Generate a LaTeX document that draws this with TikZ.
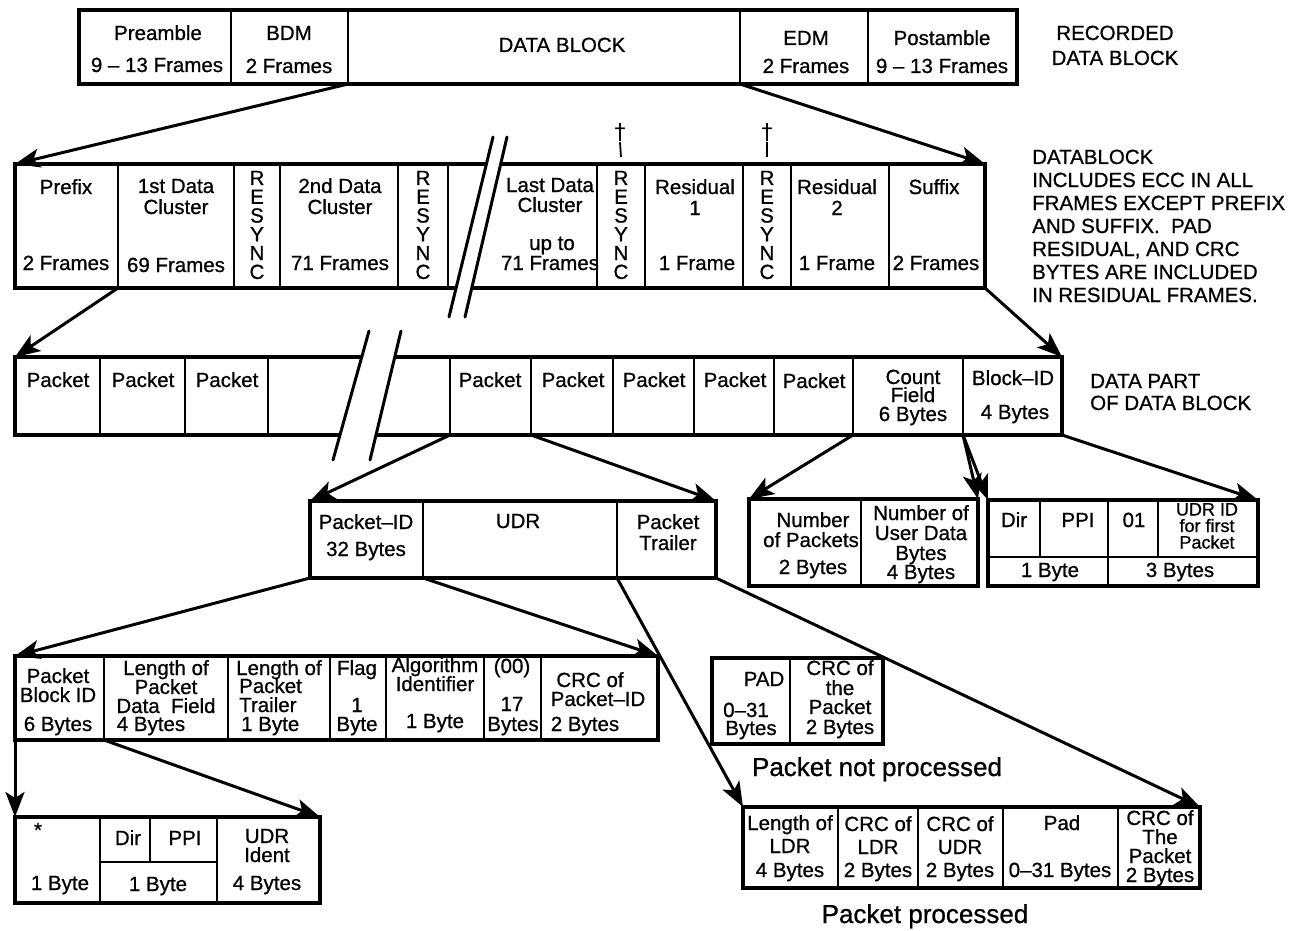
\documentclass[tikz,border=0pt]{standalone}
\usepackage{fontspec}
\setmainfont{Liberation Sans}[FakeBold=0.8]
\newfontfamily\symfont{DejaVu Sans}
\usetikzlibrary{arrows.meta,calc}
\tikzset{
  cell/.style={draw, line width=2.4pt, rectangle, inner sep=0pt, outer sep=0pt, anchor=north west},
  frame/.style={draw, line width=3.6pt, line join=miter},
  txt/.style={inner sep=0pt, anchor=base, font=\fontsize{20.5}{19}\selectfont},
  ltxt/.style={txt, anchor=base west},
  small/.style={txt, font=\fontsize{18}{16}\selectfont},
  big/.style={inner sep=0pt, anchor=base, font=\fontsize{26}{28}\selectfont},
  stack/.style={inner sep=0pt, align=center, font=\fontsize{20.5}{18.8}\selectfont},
  arr/.style={line width=3pt, -{Stealth[length=25pt,width=19pt,inset=6pt]}},
  brk/.style={line width=3pt, line cap=round},
  gapfill/.style={fill=white},
}
\newcommand\mkcell[5]{\node[cell, minimum width={(#4)-(#2)}, minimum height={(#5)-(#3)}] (#1) at (#2,#3) {};}
\newcommand\mktext[4]{\node[txt] (#1) at (#2,#3+7) {#4};}
\newcommand\mkltext[4]{\node[ltxt] (#1) at (#2,#3+7) {#4};}
\begin{document}
\begin{tikzpicture}[x=1pt,y=-1pt]
\useasboundingbox (0,0) rectangle (1301,931);

% ---------- Row 1 ----------
\mkcell{pre}{79}{10}{231}{84}
\mkcell{bdm}{231}{10}{348}{84}
\mkcell{dat}{348}{10}{740}{84}
\mkcell{edm}{740}{10}{868}{84}
\mkcell{post}{868}{10}{1017}{84}
\draw[frame] (pre.north west) rectangle (post.south east);
\mktext{a1}{158}{33}{Preamble}
\mktext{a2}{157}{65}{9 – 13 Frames}
\mktext{a3}{289}{33}{BDM}
\mktext{a4}{289}{66}{2 Frames}
\mktext{a5}{562}{45}{DATA BLOCK}
\mktext{a6}{806}{38}{EDM}
\mktext{a7}{806}{66}{2 Frames}
\mktext{a8}{942}{38}{Postamble}
\mktext{a9}{942}{66}{9 – 13 Frames}
\mktext{a10}{1115}{33}{RECORDED}
\mktext{a11}{1115}{58}{DATA BLOCK}

% ---------- Row 2 ----------
\mkcell{prefix}{15}{164}{118}{288}
\mkcell{cA}{118}{164}{234}{288}
\mkcell{rsA}{234}{164}{280}{288}
\mkcell{cB}{280}{164}{398}{288}
\mkcell{rsB}{398}{164}{448}{288}
\mkcell{cL}{448}{164}{597}{288}
\mkcell{rsC}{597}{164}{645}{288}
\mkcell{resA}{645}{164}{743}{288}
\mkcell{rsD}{743}{164}{791}{288}
\mkcell{resB}{791}{164}{889}{288}
\mkcell{suffix}{889}{164}{985}{288}
\draw[frame] (prefix.north west) rectangle (suffix.south east);
\mktext{b1}{66}{187}{Prefix}
\mktext{b2}{66}{263}{2 Frames}
\mktext{b3}{176}{186}{1st Data}
\mktext{b4}{176}{207}{Cluster}
\mktext{b5}{176}{265}{69 Frames}
\mktext{b6}{340}{186}{2nd Data}
\mktext{b7}{340}{207}{Cluster}
\mktext{b8}{340}{263}{71 Frames}
\mktext{b9}{550}{185}{Last Data}
\mktext{b10}{550}{205}{Cluster}
\mktext{b11}{552}{243}{up to}
\mktext{b12}{550}{263}{71 Frames}
\mktext{b13}{695}{187}{Residual}
\mktext{b14}{695}{208}{1}
\mktext{b15}{697}{263}{1 Frame}
\mktext{b16}{837}{187}{Residual}
\mktext{b17}{837}{208}{2}
\mktext{b18}{837}{263}{1 Frame}
\mktext{b19}{934}{187}{Suffix}
\mktext{b20}{936}{263}{2 Frames}
\node[stack] (sA) at (257,225) {R\\E\\S\\Y\\N\\C};
\node[stack] (sB) at (423,225) {R\\E\\S\\Y\\N\\C};
\node[stack] (sC) at (621,225) {R\\E\\S\\Y\\N\\C};
\node[stack] (sD) at (767,225) {R\\E\\S\\Y\\N\\C};
\node[inner sep=0pt, font=\symfont\fontsize{22}{22}\selectfont] (dgA) at (620,133) {†};
\node[inner sep=0pt, font=\symfont\fontsize{22}{22}\selectfont] (dgB) at (767,133) {†};
\draw[line width=1.8pt] (dgA.south) -- ($(rsC.north)+(0,-7)$);
\draw[line width=1.8pt] (dgB.south) -- ($(rsD.north)+(0,-7)$);
\mkltext{n1}{1032}{157}{DATABLOCK}
\mkltext{n2}{1032}{180}{INCLUDES ECC IN ALL}
\mkltext{n3}{1032}{203}{FRAMES EXCEPT PREFIX}
\mkltext{n4}{1032}{226}{AND SUFFIX.\ \ PAD}
\mkltext{n5}{1032}{249}{RESIDUAL, AND CRC}
\mkltext{n6}{1032}{272}{BYTES ARE INCLUDED}
\mkltext{n7}{1032}{295}{IN RESIDUAL FRAMES.}

% ---------- Row 3 ----------
\mkcell{pkA}{15}{357}{100}{435}
\mkcell{pkB}{100}{357}{185}{435}
\mkcell{pkC}{185}{357}{268}{435}
\mkcell{pgap}{268}{357}{450}{435}
\mkcell{pkD}{450}{357}{531}{435}
\mkcell{pkE}{531}{357}{613}{435}
\mkcell{pkF}{613}{357}{694}{435}
\mkcell{pkG}{694}{357}{774}{435}
\mkcell{pkH}{774}{357}{853}{435}
\mkcell{cnt}{853}{357}{963}{435}
\mkcell{bid}{963}{357}{1062}{435}
\draw[frame] (pkA.north west) rectangle (bid.south east);
\mktext{p1}{58}{380}{Packet}
\mktext{p2}{143}{380}{Packet}
\mktext{p3}{227}{380}{Packet}
\mktext{p4}{490}{380}{Packet}
\mktext{p5}{573}{380}{Packet}
\mktext{p6}{654}{380}{Packet}
\mktext{p7}{735}{380}{Packet}
\mktext{p8}{814}{381}{Packet}
\mktext{p9}{913}{377}{Count}
\mktext{p10}{913}{395}{Field}
\mktext{p11}{913}{414}{6 Bytes}
\mktext{p12}{1013}{378}{Block–ID}
\mktext{p13}{1015}{412}{4 Bytes}
\mkltext{p14}{1090}{381}{DATA PART}
\mkltext{p15}{1090}{403}{OF DATA BLOCK}

% ---------- Row 4 ----------
\mkcell{pid}{310}{501}{423}{578}
\mkcell{udr}{423}{501}{617}{578}
\mkcell{trl}{617}{501}{716}{578}
\draw[frame] (pid.north west) rectangle (trl.south east);
\mktext{q1}{366}{522}{Packet–ID}
\mktext{q2}{366}{549}{32 Bytes}
\mktext{q3}{518}{521}{UDR}
\mktext{q4}{668}{522}{Packet}
\mktext{q5}{668}{543}{Trailer}

\mkcell{np}{749}{499}{861}{586}
\mkcell{nu}{861}{499}{978}{586}
\draw[frame] (np.north west) rectangle (nu.south east);
\mktext{q6}{813}{520}{Number}
\mktext{q7}{811}{540}{of Packets}
\mktext{q8}{813}{567}{2 Bytes}
\mktext{q9}{921}{513}{Number of}
\mktext{q10}{921}{533}{User Data}
\mktext{q11}{921}{553}{Bytes}
\mktext{q12}{921}{572}{4 Bytes}

\mkcell{dir}{988}{500}{1040}{557}
\mkcell{ppi}{1040}{500}{1108}{557}
\mkcell{zo}{1108}{500}{1158}{557}
\mkcell{uid}{1158}{500}{1258}{557}
\mkcell{byA}{988}{557}{1108}{586}
\mkcell{byB}{1108}{557}{1258}{586}
\draw[frame] (dir.north west) rectangle (byB.south east);
\mktext{q13}{1014}{520}{Dir}
\mktext{q14}{1078}{520}{PPI}
\mktext{q15}{1134}{520}{01}
\node[small] (q16) at (1207,509+6.5) {UDR ID};
\node[small] (q17) at (1207,525.5+6.5) {for first};
\node[small] (q18) at (1207,542+6.5) {Packet};
\mktext{q19}{1050}{570}{1 Byte}
\mktext{q20}{1180}{570}{3 Bytes}

% ---------- Row 5 ----------
\mkcell{pbid}{15}{656}{104}{740}
\mkcell{lpd}{104}{656}{228}{740}
\mkcell{lpt}{228}{656}{330}{740}
\mkcell{flag}{330}{656}{386}{740}
\mkcell{alg}{386}{656}{484}{740}
\mkcell{zz}{484}{656}{541}{740}
\mkcell{crcpid}{541}{656}{658}{740}
\draw[frame] (pbid.north west) rectangle (crcpid.south east);
\mktext{r1}{58}{676}{Packet}
\mktext{r2}{58}{695}{Block ID}
\mktext{r3}{58}{724}{6 Bytes}
\mktext{r4}{166}{668}{Length of}
\mktext{r5}{166}{687}{Packet}
\mktext{r6}{166}{706}{Data\ \ Field}
\mktext{r7}{151}{724}{4 Bytes}
\mkltext{r8}{236}{668}{Length of}
\mkltext{r9}{239}{686}{Packet}
\mkltext{r10}{239}{705}{Trailer}
\mkltext{r11}{241}{724}{1 Byte}
\mktext{r12}{357}{668}{Flag}
\mktext{r13}{357}{705}{1}
\mktext{r14}{357}{724}{Byte}
\mktext{r15}{435}{665}{Algorithm}
\mktext{r16}{435}{684}{Identifier}
\mktext{r17}{435}{721}{1 Byte}
\mktext{r18}{512}{666}{(00)}
\mktext{r19}{512}{704}{17}
\mktext{r20}{513}{724}{Bytes}
\mktext{r21}{590}{680}{CRC of}
\mktext{r22}{598}{699}{Packet–ID}
\mktext{r23}{585}{724}{2 Bytes}

\mkcell{pad}{712}{658}{790}{744}
\mkcell{crcA}{790}{658}{883}{744}
\draw[frame] (pad.north west) rectangle (crcA.south east);
\mktext{r24}{764}{679}{PAD}
\mktext{r25}{746}{710}{0–31}
\mktext{r26}{751}{728}{Bytes}
\mktext{r27}{840}{668}{CRC of}
\mktext{r28}{840}{688}{the}
\mktext{r29}{840}{707}{Packet}
\mktext{r30}{840}{727}{2 Bytes}
\node[big] (npr) at (877,767+9) {Packet not processed};

% ---------- Row 6 ----------
\mkcell{star}{15}{817}{100}{903}
\mkcell{dirB}{100}{817}{150}{862}
\mkcell{ppiB}{150}{817}{217}{862}
\mkcell{byC}{100}{862}{217}{903}
\mkcell{ident}{217}{817}{320}{903}
\draw[frame] (star.north west) rectangle (ident.south east);
\mktext{s1}{38}{830}{*}
\mktext{s2}{60}{883}{1 Byte}
\mktext{s3}{128}{838}{Dir}
\mktext{s4}{185}{838}{PPI}
\mktext{s5}{158}{884}{1 Byte}
\mktext{s6}{267}{836}{UDR}
\mktext{s7}{267}{855}{Ident}
\mktext{s8}{267}{883}{4 Bytes}

\mkcell{lldr}{743}{807}{838}{888}
\mkcell{crcl}{838}{807}{918}{888}
\mkcell{crcu}{918}{807}{1003}{888}
\mkcell{padB}{1003}{807}{1118}{888}
\mkcell{crcB}{1118}{807}{1200}{888}
\draw[frame] (lldr.north west) rectangle (crcB.south east);
\mktext{t1}{790}{823}{Length of}
\mktext{t2}{790}{846}{LDR}
\mktext{t3}{790}{870}{4 Bytes}
\mktext{t4}{878}{824}{CRC of}
\mktext{t5}{878}{847}{LDR}
\mktext{t6}{878}{870}{2 Bytes}
\mktext{t7}{960}{824}{CRC of}
\mktext{t8}{960}{847}{UDR}
\mktext{t9}{960}{870}{2 Bytes}
\mktext{t10}{1062}{823}{Pad}
\mktext{t11}{1060}{870}{0–31 Bytes}
\mktext{t12}{1160}{818}{CRC of}
\mktext{t13}{1160}{837}{The}
\mktext{t14}{1160}{856}{Packet}
\mktext{t15}{1160}{875}{2 Bytes}
\node[big] (npp) at (925,914+9) {Packet processed};

% ---------- Break marks ----------
\coordinate (k1a) at (493,137); \coordinate (k1b) at (449,317);
\coordinate (k2a) at (507,137); \coordinate (k2b) at (465,317);
\fill[gapfill] (k1a) -- (k2a) -- (k2b) -- (k1b) -- cycle;
\draw[brk] (k1a) -- (k1b);
\draw[brk] (k2a) -- (k2b);
\coordinate (k3a) at (369,331); \coordinate (k3b) at (333,460);
\coordinate (k4a) at (401,331); \coordinate (k4b) at (370,460);
\fill[gapfill] (k3a) -- (k4a) -- (k4b) -- (k3b) -- cycle;
\draw[brk] (k3a) -- (k3b);
\draw[brk] (k4a) -- (k4b);

% ---------- Connectors ----------
\draw[arr] (bdm.south east) -- (prefix.north west);
\draw[arr] (edm.south west) -- (suffix.north east);
\draw[arr] (prefix.south east) -- (pkA.north west);
\draw[arr] (suffix.south east) -- (bid.north east);
\draw[arr] (pkD.south west) -- (pid.north west);
\draw[arr] (pkD.south east) -- (trl.north east);
\draw[arr] (cnt.south west) -- (np.north west);
\draw[arr] (cnt.south east) -- (nu.north east);
\draw[arr] (bid.south west) -- (dir.north west);
\draw[arr] (bid.south east) -- (uid.north east);
\draw[arr] (pid.south west) -- (pbid.north west);
\draw[arr] (pid.south east) -- (crcpid.north east);
\draw[arr] (udr.south east) -- (lldr.north west);
\draw[arr] (trl.south east) -- (crcB.north east);
\draw[arr] (pbid.south west) -- (star.north west);
\draw[arr] (pbid.south east) -- (ident.north east);
\end{tikzpicture}
\end{document}
